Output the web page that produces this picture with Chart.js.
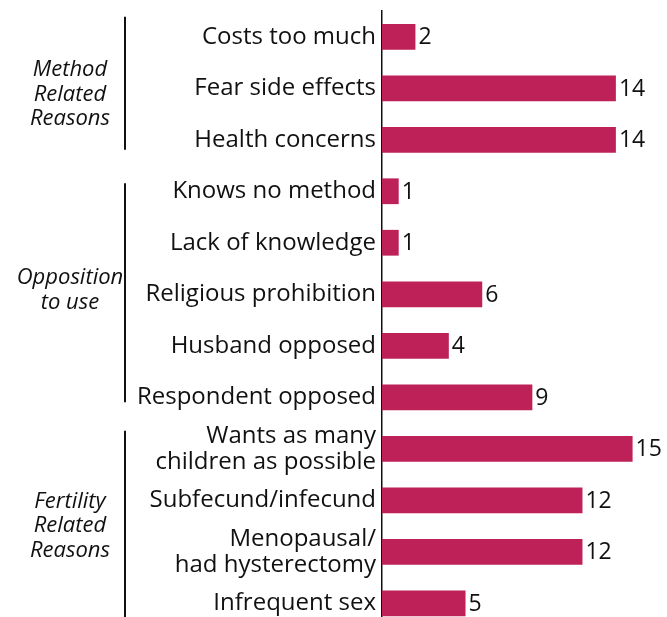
<!DOCTYPE html>
<html lang="en">

<head>
    <meta charset="UTF-8">
    <title>reasons</title>
    <script src="https://cdn.jsdelivr.net/npm/chart.js@4.4.1/dist/chart.umd.min.js"></script>
    <style>
        html, body {
            margin: 0;
            padding: 0;
            overflow: hidden;
            background: #fff;
        }
    </style>
</head>

<body>
    <canvas id="myChart" width="667" height="630"></canvas>

    <script>
        // data
        var reasons = [
            'Costs too much', 'Fear side effects', 'Health concerns',
            'Knows no method', 'Lack of knowledge', 'Religious prohibition', 'Husband opposed', 'Respondent opposed',
            ['Wants as many', 'children as possible'], 'Subfecund/infecund', ['Menopausal/', 'had hysterectomy'], 'Infrequent sex'
        ];
        var counts = [2, 14, 14, 1, 1, 6, 4, 9, 15, 12, 12, 5];
        var groupNames = [['Method', 'Related', 'Reasons'], ['Opposition', 'to use'], ['Fertility', 'Related', 'Reasons']];
        var groupFirst = [0, 3, 8];
        var groupLast = [2, 7, 11];

        var barColor = '#bd2157';
        var ink = '#111';

        // bracket extents around first/last bar centre, and label nudge
        var bracketPad = [[20, 10], [8, 5], [18, 20]];
        var labelNudge = [6, -4, 0];

        var valueLabels = {
            id: 'valueLabels',
            afterDatasetsDraw(chart) {
                var ctx = chart.ctx;
                var meta = chart.getDatasetMeta(0);
                ctx.save();
                ctx.font = '23px "Open Sans"';
                ctx.fillStyle = ink;
                ctx.textBaseline = 'middle';
                ctx.textAlign = 'left';
                meta.data.forEach(function (bar, i) {
                    ctx.fillText(counts[i], bar.x + 3, bar.y + 1);
                });
                ctx.restore();
            }
        };

        var groupLabels = {
            id: 'groupLabels',
            afterDraw(chart) {
                var ctx = chart.ctx;
                var y = chart.scales.y;
                ctx.save();
                ctx.strokeStyle = ink;
                ctx.lineWidth = 2;
                ctx.fillStyle = ink;
                ctx.font = 'italic 22px "Open Sans"';
                ctx.textAlign = 'center';
                ctx.textBaseline = 'middle';
                groupNames.forEach(function (lines, g) {
                    var top = y.getPixelForValue(groupFirst[g]);
                    var bottom = y.getPixelForValue(groupLast[g]);
                    ctx.beginPath();
                    ctx.moveTo(125, top - bracketPad[g][0]);
                    ctx.lineTo(125, bottom + bracketPad[g][1]);
                    ctx.stroke();
                    var mid = (top + bottom) / 2 + labelNudge[g];
                    var lh = 24.5;
                    lines.forEach(function (t, k) {
                        ctx.fillText(t, 70, mid + (k - (lines.length - 1) / 2) * lh);
                    });
                });
                ctx.restore();
            }
        };

        var ctx = document.getElementById('myChart').getContext('2d');
        new Chart(ctx, {
            type: 'bar',
            data: {
                labels: reasons,
                datasets: [{
                    data: counts,
                    backgroundColor: barColor,
                    borderWidth: 0,
                    barPercentage: 1,
                    categoryPercentage: 0.5
                }]
            },
            plugins: [valueLabels, groupLabels],
            options: {
                indexAxis: 'y',
                responsive: false,
                animation: false,
                layout: {
                    padding: { left: 0, top: 11, right: 1, bottom: 1 }
                },
                plugins: {
                    legend: { display: false },
                    tooltip: { enabled: false }
                },
                scales: {
                    x: {
                        display: false,
                        min: 0,
                        max: 17
                    },
                    y: {
                        offset: true,
                        afterFit: function (scale) {
                            scale.width = 382;
                            scale.paddingTop = 0;
                            scale.paddingBottom = 0;
                        },
                        grid: { display: false, drawTicks: false },
                        border: { display: true, color: ink, width: 1.5 },
                        ticks: {
                            autoSkip: false,
                            padding: 6,
                            color: ink,
                            font: { family: 'Open Sans', size: 24, lineHeight: 1.08 }
                        }
                    }
                }
            }
        });
    </script>

</body>

</html>
